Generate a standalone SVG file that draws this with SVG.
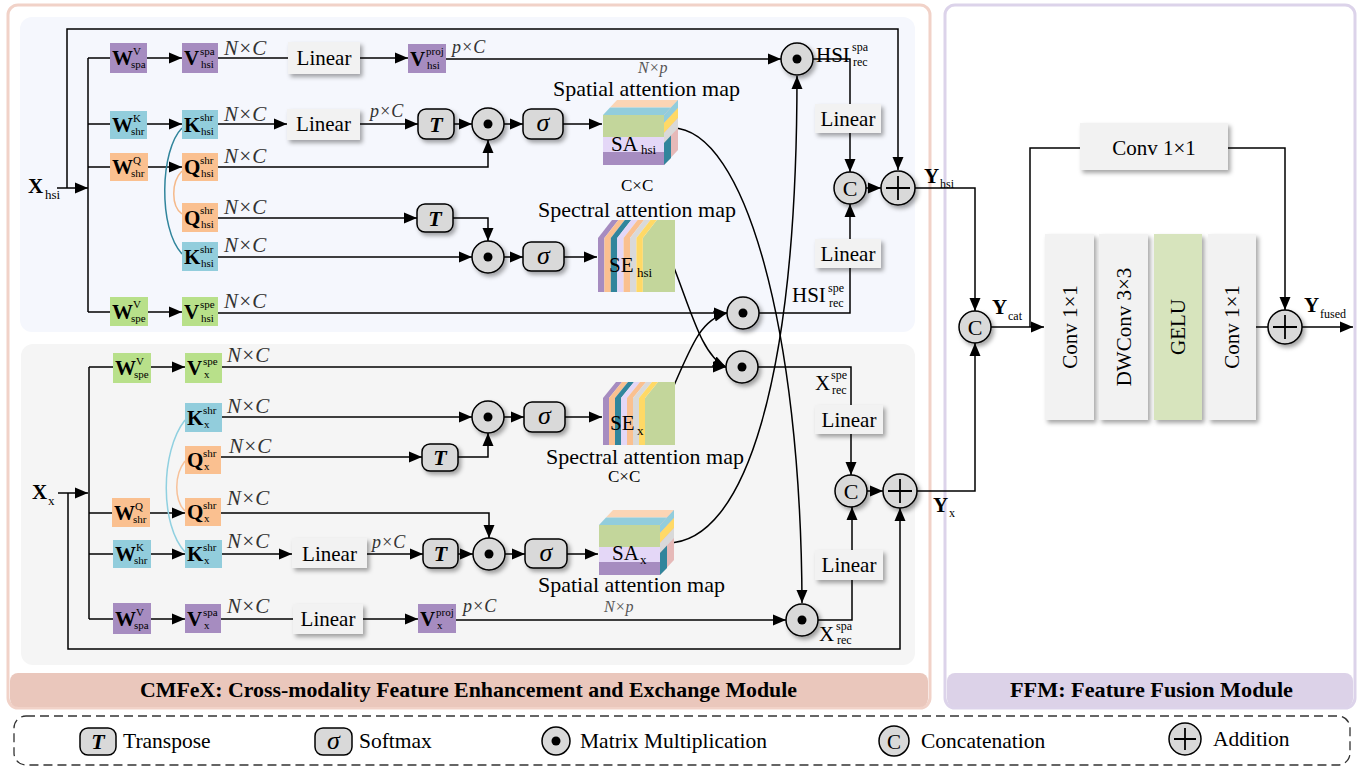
<svg xmlns="http://www.w3.org/2000/svg" width="1361" height="768" viewBox="0 0 1361 768" font-family="'Liberation Serif', 'Times New Roman', serif">
<defs>
<style>
text{font-family:"Liberation Serif","Times New Roman",serif;fill:#000}
.m{font-size:21px;font-weight:bold}
.s{font-size:11px}
.nc{font-size:21px;font-style:italic;fill:#333}
.pc{font-size:18px;font-style:italic;fill:#333}
.np{font-size:16px;font-style:italic;fill:#555}
.cc{font-size:17px}
.t{font-size:21px}
.cap{font-size:22px}
.lg{font-size:21.5px}
.ln{fill:none;stroke:#000;stroke-width:1.5}
.a{marker-end:url(#ah)}
.lin{fill:#f2f2f2;filter:url(#sh)}
.op{fill:#d9d9d9;stroke:#000;stroke-width:1.5;filter:url(#sh)}
.opl{fill:#d9d9d9;stroke:#000;stroke-width:1.5}
.pu{fill:#a68cc0}.te{fill:#92cddc}.or{fill:#fac090}.gr{fill:#b8e08a}
.cr{fill:none;stroke:#000;stroke-width:1.8}
</style>
<filter id="sh" x="-30%" y="-30%" width="170%" height="170%">
<feDropShadow dx="2.5" dy="3" stdDeviation="2" flood-color="#000" flood-opacity="0.35"/>
</filter>
<marker id="ah" markerUnits="userSpaceOnUse" markerWidth="14" markerHeight="12" refX="13" refY="6" orient="auto">
<path d="M0,0.5 L13,6 L0,11.5 z" fill="#000"/>
</marker>
<!-- spatial attention cube body, front face origin at (0,0) -->
<g id="sa-body">
<polygon points="14,-15 75,-15 68,-7.5 7,-7.5" fill="#fbd5b5"/>
<polygon points="7,-7.5 68,-7.5 61,0 0,0" fill="#92cddc"/>
<polygon points="61,0 75,-15 75,35 61,50" fill="#e6b9b8"/>
<polygon points="61,0 75,-15 75,-7 61,8" fill="#92cddc"/>
<polygon points="61,8 75,-7 75,3 61,18" fill="#ffd966"/>
<polygon points="61,18 75,3 75,13 61,28" fill="#d9d9d9"/>
<polygon points="61,28 68,20.5 68,43 61,50" fill="#31859c"/>
<rect x="0" y="0" width="61" height="22" fill="#c3d69b"/>
<rect x="0" y="22" width="61" height="15" fill="#e4d7f7"/>
<rect x="0" y="37" width="61" height="13" fill="#a68cc0"/>
</g>
</defs>

<!-- module frames -->
<g id="cmfex-frame">
<rect x="8" y="5" width="922" height="703" rx="10" fill="#fff" stroke="#f1d2c8" stroke-width="3"/>
<rect x="10" y="673" width="918" height="34" rx="8" fill="#eac7bc"/>
<text x="140" y="697" font-size="21" font-weight="bold" textLength="657" lengthAdjust="spacingAndGlyphs">CMFeX: Cross-modality Feature Enhancement and Exchange Module</text>
</g>
<rect id="panel-hsi" x="20" y="17" width="895" height="315" rx="12" fill="#f5f7fd"/>
<rect id="panel-x" x="21" y="344" width="894" height="321" rx="12" fill="#f5f5f5"/>
<g id="ffm-frame">
<rect x="945" y="5" width="410" height="703" rx="10" fill="#fff" stroke="#dcd3ea" stroke-width="3"/>
<rect x="947" y="673" width="406" height="34" rx="8" fill="#dcd2e8"/>
<text x="1010" y="697" font-size="21" font-weight="bold" textLength="283" lengthAdjust="spacingAndGlyphs">FFM: Feature Fusion Module</text>
</g>

<!-- connectors -->
<g id="connectors">
<!-- HSI branch -->
<path class="ln a" d="M57,188 H88"/>
<path class="ln a" d="M67,188 V29 H898 V170"/>
<path class="ln" d="M88,58 V312"/>
<path class="ln" d="M88,58 H110"/>
<path class="ln a" d="M147,58 H182"/>
<path class="ln" d="M218,58 H288"/>
<path class="ln a" d="M360,58 H408"/>
<path class="ln a" d="M446,59 H781"/>
<path class="ln" d="M813,59 H850 V104"/>
<path class="ln a" d="M850,133 V172"/>
<path class="ln" d="M88,124 H110"/>
<path class="ln a" d="M147,124 H182"/>
<path class="ln a" d="M218,124 H287"/>
<path class="ln a" d="M360,124 H418"/>
<path class="ln a" d="M454,124 H472"/>
<path class="ln a" d="M504,124 H523"/>
<path class="ln a" d="M563,124 H602"/>
<path class="ln" d="M88,167 H110"/>
<path class="ln a" d="M148,167 H182"/>
<path class="ln a" d="M218,167 H488 V140"/>
<path class="ln a" d="M218,218 H417"/>
<path class="ln a" d="M453,218 H488 V241"/>
<path class="ln a" d="M218,257 H472"/>
<path class="ln a" d="M504,257 H523"/>
<path class="ln a" d="M564,257 H597"/>
<path class="ln" d="M88,312 H110"/>
<path class="ln a" d="M148,312 H182"/>
<path class="ln a" d="M218,313 H727"/>
<path class="ln" d="M759,313 H850 V268"/>
<path class="ln a" d="M850,239 V204"/>
<path class="ln a" d="M866,188 H881"/>
<path class="ln a" d="M915,188 H975 V311"/>
<path d="M182,128 C160,150 158,228 182,254" fill="none" stroke="#31859c" stroke-width="1.5"/>
<path d="M182,171 C171,182 171,206 182,214" fill="none" stroke="#f5b98a" stroke-width="1.5"/>
<!-- X branch -->
<path class="ln a" d="M58,493 H88"/>
<path class="ln a" d="M68,493 V649 H900 V508"/>
<path class="ln" d="M89,367 V619"/>
<path class="ln" d="M89,367 H113"/>
<path class="ln a" d="M151,367 H185"/>
<path class="ln a" d="M222,367 H726"/>
<path class="ln" d="M758,367 H851 V405"/>
<path class="ln a" d="M851,434 V475"/>
<path class="ln a" d="M222,417 H472"/>
<path class="ln a" d="M504,417 H524"/>
<path class="ln a" d="M565,417 H602"/>
<path class="ln a" d="M221,457 H422"/>
<path class="ln a" d="M458,457 H488 V433"/>
<path class="ln" d="M89,513 H112"/>
<path class="ln a" d="M150,513 H185"/>
<path class="ln a" d="M221,513 H489 V538"/>
<path class="ln" d="M89,554 H113"/>
<path class="ln a" d="M151,554 H185"/>
<path class="ln a" d="M222,554 H292"/>
<path class="ln a" d="M367,554 H423"/>
<path class="ln a" d="M458,554 H473"/>
<path class="ln a" d="M505,554 H525"/>
<path class="ln a" d="M567,554 H598"/>
<path class="ln" d="M89,619 H113"/>
<path class="ln a" d="M151,619 H185"/>
<path class="ln" d="M221,619 H293"/>
<path class="ln a" d="M363,619 H418"/>
<path class="ln a" d="M456,620 H786"/>
<path class="ln" d="M818,620 H852 V580"/>
<path class="ln a" d="M852,550 V507"/>
<path class="ln a" d="M867,491 H883"/>
<path class="ln a" d="M917,491 H975 V343"/>
<path d="M185,420 C160,452 160,525 185,552" fill="none" stroke="#8fd0e0" stroke-width="1.5"/>
<path d="M185,461 C174,475 174,500 185,511" fill="none" stroke="#f7c199" stroke-width="1.5"/>
<!-- cross-modality exchange -->
<path class="ln a" d="M672,128 C745,128 801,330 802,603"/>
<path class="ln a" d="M667,543 C745,543 797,380 797,76"/>
<path class="ln a" d="M667,250 C690,305 700,355 726,367"/>
<path class="ln a" d="M662,413 C690,350 698,320 727,313"/>
<!-- FFM -->
<path class="ln a" d="M991,327 H1044"/>
<path class="ln" d="M1030,327 V148 H1080"/>
<path class="ln a" d="M1228,148 H1285 V310"/>
<path class="ln" d="M1256,327 H1268"/>
<path class="ln a" d="M1302,327 H1353"/>
</g>

<!-- HSI branch nodes -->
<g id="w-v-spa-hsi"><rect class="pu" x="110" y="43" width="37" height="30"/><text class="m" x="112" y="65">W</text><text class="s" x="133" y="55">V</text><text class="s" x="131" y="68">spa</text></g>
<g id="v-spa-hsi"><rect class="pu" x="182" y="43" width="36" height="30"/><text class="m" x="184" y="65">V</text><text class="s" x="200" y="55">spa</text><text class="s" x="201" y="68">hsi</text></g>
<g id="linear-spa-hsi"><rect class="lin" x="288" y="42" width="72" height="32"/><text class="t" x="324" y="65" text-anchor="middle">Linear</text></g>
<g id="v-proj-hsi"><rect class="pu" x="408" y="44" width="38" height="29"/><text class="m" x="410" y="66">V</text><text class="s" x="426" y="55">proj</text><text class="s" x="427" y="69">hsi</text></g>
<g id="w-k-hsi"><rect class="te" x="110" y="111" width="37" height="28"/><text class="m" x="112" y="132">W</text><text class="s" x="133" y="122">K</text><text class="s" x="131" y="135">shr</text></g>
<g id="k-shr-hsi-a"><rect class="te" x="182" y="110" width="36" height="29"/><text class="m" x="184" y="132">K</text><text class="s" x="200" y="121">shr</text><text class="s" x="201" y="135">hsi</text></g>
<g id="linear-k-hsi"><rect class="lin" x="287" y="109" width="73" height="31"/><text class="t" x="323.5" y="131" text-anchor="middle">Linear</text></g>
<g id="t-hsi-a"><rect class="op" x="418" y="109" width="36" height="30" rx="8"/><text x="436" y="132" font-size="22" font-style="italic" font-weight="bold" text-anchor="middle">T</text></g>
<g id="mm-hsi-a"><circle class="op" cx="488" cy="124" r="16"/><circle cx="488" cy="124" r="4.5"/></g>
<g id="sm-hsi-a"><rect class="op" x="523" y="109" width="40" height="30" rx="8"/><text x="543" y="131" font-size="26" font-style="italic" text-anchor="middle">σ</text></g>
<g id="w-q-hsi"><rect class="or" x="110" y="153" width="38" height="28"/><text class="m" x="112" y="174">W</text><text class="s" x="133" y="164">Q</text><text class="s" x="131" y="177">shr</text></g>
<g id="q-shr-hsi-a"><rect class="or" x="182" y="153" width="36" height="28"/><text class="m" x="184" y="174">Q</text><text class="s" x="200" y="164">shr</text><text class="s" x="201" y="177">hsi</text></g>
<g id="q-shr-hsi-b"><rect class="or" x="182" y="203" width="36" height="29"/><text class="m" x="184" y="225">Q</text><text class="s" x="200" y="214">shr</text><text class="s" x="201" y="228">hsi</text></g>
<g id="k-shr-hsi-b"><rect class="te" x="182" y="242" width="36" height="29"/><text class="m" x="184" y="264">K</text><text class="s" x="200" y="253">shr</text><text class="s" x="201" y="267">hsi</text></g>
<g id="t-hsi-b"><rect class="op" x="417" y="204" width="36" height="28" rx="8"/><text x="435" y="226" font-size="22" font-style="italic" font-weight="bold" text-anchor="middle">T</text></g>
<g id="mm-hsi-b"><circle class="op" cx="488" cy="257" r="16"/><circle cx="488" cy="257" r="4.5"/></g>
<g id="sm-hsi-b"><rect class="op" x="523" y="242" width="41" height="29" rx="8"/><text x="543.5" y="264" font-size="26" font-style="italic" text-anchor="middle">σ</text></g>
<g id="w-v-spe-hsi"><rect class="gr" x="110" y="297" width="38" height="29"/><text class="m" x="112" y="319">W</text><text class="s" x="133" y="308">V</text><text class="s" x="131" y="322">spe</text></g>
<g id="v-spe-hsi"><rect class="gr" x="182" y="297" width="36" height="29"/><text class="m" x="184" y="319">V</text><text class="s" x="200" y="308">spe</text><text class="s" x="201" y="322">hsi</text></g>

<g id="sa-hsi"><use href="#sa-body" x="603" y="115"/><text class="t" x="611" y="151">SA</text><text x="641" y="154" font-size="13">hsi</text></g>
<g id="se-hsi">
<polygon points="642.8,238 656.8,220 675,220 675,292 642.8,292" fill="#c3d69b"/>
<polygon points="598,238 612,220 618.4,220 604.4,238" fill="#a68cc0"/><rect x="598" y="238" width="6.4" height="54" fill="#a68cc0"/>
<polygon points="604.4,238 618.4,220 624.8,220 610.8,238" fill="#fac090"/><rect x="604.4" y="238" width="6.4" height="54" fill="#fac090"/>
<polygon points="610.8,238 624.8,220 631.2,220 617.2,238" fill="#31859c"/><rect x="610.8" y="238" width="6.4" height="54" fill="#31859c"/>
<polygon points="617.2,238 631.2,220 637.6,220 623.6,238" fill="#e4d7f7"/><rect x="617.2" y="238" width="6.4" height="54" fill="#e4d7f7"/>
<polygon points="623.6,238 637.6,220 644,220 630,238" fill="#fac090"/><rect x="623.6" y="238" width="6.4" height="54" fill="#fac090"/>
<polygon points="630,238 644,220 650.4,220 636.4,238" fill="#d9d9d9"/><rect x="630" y="238" width="6.4" height="54" fill="#d9d9d9"/>
<polygon points="636.4,238 650.4,220 656.8,220 642.8,238" fill="#ffd966"/><rect x="636.4" y="238" width="6.4" height="54" fill="#ffd966"/>
<text class="t" x="609" y="272">SE</text><text x="637" y="277" font-size="13">hsi</text>
</g>
<g id="mm-spa-hsi"><circle class="op" cx="797" cy="59" r="16"/><circle cx="797" cy="59" r="4.5"/></g>
<g id="mm-spe-hsi"><circle class="op" cx="743" cy="313" r="16"/><circle cx="743" cy="313" r="4.5"/></g>
<g id="linear-rec-spa-hsi"><rect class="lin" x="815" y="104" width="66" height="29"/><text class="t" x="848" y="126" text-anchor="middle">Linear</text></g>
<g id="linear-rec-spe-hsi"><rect class="lin" x="815" y="239" width="66" height="29"/><text class="t" x="848" y="261" text-anchor="middle">Linear</text></g>
<g id="cat-hsi"><circle class="op" cx="850" cy="188" r="16"/><text x="850" y="196" font-size="22" text-anchor="middle">C</text></g>
<g id="add-hsi"><circle class="op" cx="898" cy="188" r="17"/><path class="cr" d="M886,188 H910 M898,176 V200"/></g>

<!-- X branch nodes -->
<g id="w-v-spe-x"><rect class="gr" x="113" y="353" width="38" height="30"/><text class="m" x="115" y="375">W</text><text class="s" x="136" y="365">V</text><text class="s" x="134" y="378">spe</text></g>
<g id="v-spe-x"><rect class="gr" x="185" y="353" width="37" height="30"/><text class="m" x="187" y="375">V</text><text class="s" x="203" y="365">spe</text><text class="s" x="204" y="378">x</text></g>
<g id="k-shr-x-a"><rect class="te" x="185" y="403" width="37" height="29"/><text class="m" x="187" y="425">K</text><text class="s" x="203" y="414">shr</text><text class="s" x="204" y="428">x</text></g>
<g id="q-shr-x-a"><rect class="or" x="185" y="446" width="36" height="28"/><text class="m" x="187" y="467">Q</text><text class="s" x="203" y="457">shr</text><text class="s" x="204" y="470">x</text></g>
<g id="w-q-x"><rect class="or" x="112" y="498" width="38" height="29"/><text class="m" x="114" y="520">W</text><text class="s" x="135" y="510">Q</text><text class="s" x="133" y="523">shr</text></g>
<g id="q-shr-x-b"><rect class="or" x="185" y="498" width="36" height="28"/><text class="m" x="187" y="519">Q</text><text class="s" x="203" y="509">shr</text><text class="s" x="204" y="522">x</text></g>
<g id="w-k-x"><rect class="te" x="113" y="540" width="38" height="28"/><text class="m" x="115" y="561">W</text><text class="s" x="136" y="551">K</text><text class="s" x="134" y="564">shr</text></g>
<g id="k-shr-x-b"><rect class="te" x="185" y="540" width="37" height="28"/><text class="m" x="187" y="561">K</text><text class="s" x="203" y="551">shr</text><text class="s" x="204" y="564">x</text></g>
<g id="w-v-spa-x"><rect class="pu" x="113" y="603" width="38" height="31"/><text class="m" x="115" y="626">W</text><text class="s" x="136" y="616">V</text><text class="s" x="134" y="629">spa</text></g>
<g id="v-spa-x"><rect class="pu" x="185" y="604" width="36" height="29"/><text class="m" x="187" y="626">V</text><text class="s" x="203" y="616">spa</text><text class="s" x="204" y="629">x</text></g>
<g id="linear-k-x"><rect class="lin" x="292" y="538" width="75" height="30"/><text class="t" x="329.5" y="561" text-anchor="middle">Linear</text></g>
<g id="linear-spa-x"><rect class="lin" x="293" y="604" width="70" height="30"/><text class="t" x="328" y="626" text-anchor="middle">Linear</text></g>
<g id="v-proj-x"><rect class="pu" x="418" y="604" width="38" height="29"/><text class="m" x="420" y="626">V</text><text class="s" x="436" y="616">proj</text><text class="s" x="437" y="629">x</text></g>
<g id="mm-x-a"><circle class="op" cx="488" cy="417" r="16"/><circle cx="488" cy="417" r="4.5"/></g>
<g id="sm-x-a"><rect class="op" x="524" y="402" width="41" height="30" rx="8"/><text x="544.5" y="424" font-size="26" font-style="italic" text-anchor="middle">σ</text></g>
<g id="t-x-a"><rect class="op" x="422" y="444" width="36" height="27" rx="8"/><text x="440" y="465" font-size="22" font-style="italic" font-weight="bold" text-anchor="middle">T</text></g>
<g id="t-x-b"><rect class="op" x="423" y="539" width="35" height="29" rx="8"/><text x="440.5" y="561" font-size="22" font-style="italic" font-weight="bold" text-anchor="middle">T</text></g>
<g id="mm-x-b"><circle class="op" cx="489" cy="554" r="16"/><circle cx="489" cy="554" r="4.5"/></g>
<g id="sm-x-b"><rect class="op" x="525" y="539" width="42" height="29" rx="8"/><text x="546" y="561" font-size="26" font-style="italic" text-anchor="middle">σ</text></g>
<g id="se-x">
<polygon points="645,398 658,382 675,382 675,445 645,445" fill="#c3d69b"/>
<polygon points="603,398 616,382 622,382 609,398" fill="#a68cc0"/><rect x="603" y="398" width="6" height="47" fill="#a68cc0"/>
<polygon points="609,398 622,382 628,382 615,398" fill="#fac090"/><rect x="609" y="398" width="6" height="47" fill="#fac090"/>
<polygon points="615,398 628,382 634,382 621,398" fill="#31859c"/><rect x="615" y="398" width="6" height="47" fill="#31859c"/>
<polygon points="621,398 634,382 640,382 627,398" fill="#e4d7f7"/><rect x="621" y="398" width="6" height="47" fill="#e4d7f7"/>
<polygon points="627,398 640,382 646,382 633,398" fill="#fac090"/><rect x="627" y="398" width="6" height="47" fill="#fac090"/>
<polygon points="633,398 646,382 652,382 639,398" fill="#d9d9d9"/><rect x="633" y="398" width="6" height="47" fill="#d9d9d9"/>
<polygon points="639,398 652,382 658,382 645,398" fill="#ffd966"/><rect x="639" y="398" width="6" height="47" fill="#ffd966"/>
<text class="t" x="610" y="430">SE</text><text x="637" y="435" font-size="13">x</text>
</g>
<g id="sa-x"><use href="#sa-body" x="599" y="525"/><text class="t" x="612" y="560">SA</text><text x="640" y="564" font-size="13">x</text></g>
<g id="mm-spe-x"><circle class="op" cx="742" cy="367" r="16"/><circle cx="742" cy="367" r="4.5"/></g>
<g id="mm-spa-x"><circle class="op" cx="802" cy="620" r="16"/><circle cx="802" cy="620" r="4.5"/></g>
<g id="linear-rec-spe-x"><rect class="lin" x="815" y="405" width="68" height="29"/><text class="t" x="849" y="427" text-anchor="middle">Linear</text></g>
<g id="linear-rec-spa-x"><rect class="lin" x="815" y="550" width="68" height="30"/><text class="t" x="849" y="572" text-anchor="middle">Linear</text></g>
<g id="cat-x"><circle class="op" cx="851" cy="491" r="16"/><text x="851" y="499" font-size="22" text-anchor="middle">C</text></g>
<g id="add-x"><circle class="op" cx="900" cy="491" r="17"/><path class="cr" d="M888,491 H912 M900,479 V503"/></g>

<!-- FFM nodes -->
<g id="cat-ffm"><circle class="op" cx="975" cy="327" r="16"/><text x="975" y="335" font-size="22" text-anchor="middle">C</text></g>
<g id="conv-skip"><rect class="lin" x="1080" y="123" width="148" height="47"/><text class="t" x="1154" y="155" text-anchor="middle">Conv 1×1</text></g>
<g id="conv-a"><rect class="lin" x="1045" y="234" width="49" height="186"/><text class="t" transform="translate(1077,327) rotate(-90)" text-anchor="middle">Conv 1×1</text></g>
<g id="dwconv"><rect class="lin" x="1099" y="234" width="49" height="186"/><text class="t" transform="translate(1131,327) rotate(-90)" text-anchor="middle">DWConv 3×3</text></g>
<g id="gelu"><rect x="1154" y="234" width="48" height="186" fill="#d7e4bd" filter="url(#sh)"/><text class="t" transform="translate(1185,327) rotate(-90)" text-anchor="middle">GELU</text></g>
<g id="conv-b"><rect class="lin" x="1208" y="234" width="48" height="186"/><text class="t" transform="translate(1239,327) rotate(-90)" text-anchor="middle">Conv 1×1</text></g>
<g id="add-ffm"><circle class="op" cx="1285" cy="327" r="17"/><path class="cr" d="M1273,327 H1297 M1285,315 V339"/></g>

<!-- free labels -->
<g id="labels">
<text class="m" x="28" y="193" font-size="22">X</text><text x="45" y="199" font-size="13">hsi</text>
<text class="m" x="32" y="499" font-size="22">X</text><text x="48" y="505" font-size="13">x</text>
<text class="nc" x="224" y="55">N×C</text>
<text class="nc" x="224" y="121">N×C</text>
<text class="nc" x="224" y="163">N×C</text>
<text class="nc" x="224" y="214">N×C</text>
<text class="nc" x="224" y="252">N×C</text>
<text class="nc" x="224" y="308">N×C</text>
<text class="nc" x="227" y="362">N×C</text>
<text class="nc" x="227" y="413">N×C</text>
<text class="nc" x="229" y="453">N×C</text>
<text class="nc" x="227" y="505">N×C</text>
<text class="nc" x="227" y="548">N×C</text>
<text class="nc" x="227" y="613">N×C</text>
<text class="pc" x="452" y="53">p×C</text>
<text class="pc" x="370" y="117">p×C</text>
<text class="pc" x="372" y="548">p×C</text>
<text class="pc" x="463" y="612">p×C</text>
<text class="np" x="638" y="73">N×p</text>
<text class="cap" x="553" y="96">Spatial attention map</text>
<text class="cc" x="621" y="191">C×C</text>
<text class="cap" x="538" y="217">Spectral attention map</text>
<text class="cap" x="546" y="464">Spectral attention map</text>
<text class="cc" x="608" y="482">C×C</text>
<text class="cap" x="538" y="592">Spatial attention map</text>
<text class="np" x="604" y="612">N×p</text>
<text class="t" x="816" y="62">HSI</text><text x="852" y="51" font-size="12">spa</text><text x="853" y="66" font-size="12">rec</text>
<text class="t" x="792" y="302">HSI</text><text x="828" y="292" font-size="12">spe</text><text x="829" y="307" font-size="12">rec</text>
<text class="t" x="815" y="390">X</text><text x="831" y="379" font-size="12">spe</text><text x="832" y="394" font-size="12">rec</text>
<text class="t" x="819" y="641">X</text><text x="836" y="630" font-size="12">spa</text><text x="837" y="644" font-size="12">rec</text>
<text class="m" x="924" y="183" font-size="22">Y</text><text x="940" y="188" font-size="12">hsi</text>
<text class="m" x="933" y="512" font-size="22">Y</text><text x="949" y="517" font-size="12">x</text>
<text class="m" x="992" y="314" font-size="22">Y</text><text x="1008" y="320" font-size="12">cat</text>
<text class="m" x="1304" y="312" font-size="22">Y</text><text x="1320" y="318" font-size="12">fused</text>
</g>

<!-- legend -->
<g id="legend">
<rect x="14" y="716" width="1336" height="49" rx="12" fill="none" stroke="#333" stroke-width="1.3" stroke-dasharray="9 5"/>
<rect class="opl" x="80" y="728" width="36" height="27" rx="8"/><text x="98" y="749" font-size="22" font-style="italic" font-weight="bold" text-anchor="middle">T</text>
<text class="lg" x="123" y="748">Transpose</text>
<rect class="opl" x="315" y="728" width="37" height="27" rx="8"/><text x="333.5" y="749" font-size="26" font-style="italic" text-anchor="middle">σ</text>
<text class="lg" x="359" y="748">Softmax</text>
<circle class="opl" cx="556" cy="741" r="14"/><circle cx="556" cy="741" r="4.5"/>
<text class="lg" x="580" y="748">Matrix Multiplication</text>
<circle class="opl" cx="894" cy="741" r="15"/><text x="894" y="749" font-size="21" text-anchor="middle">C</text>
<text class="lg" x="921" y="748">Concatenation</text>
<circle class="opl" cx="1185" cy="739" r="16"/><path class="cr" d="M1174,739 H1196 M1185,728 V750"/>
<text class="lg" x="1213" y="746">Addition</text>
</g>
</svg>
